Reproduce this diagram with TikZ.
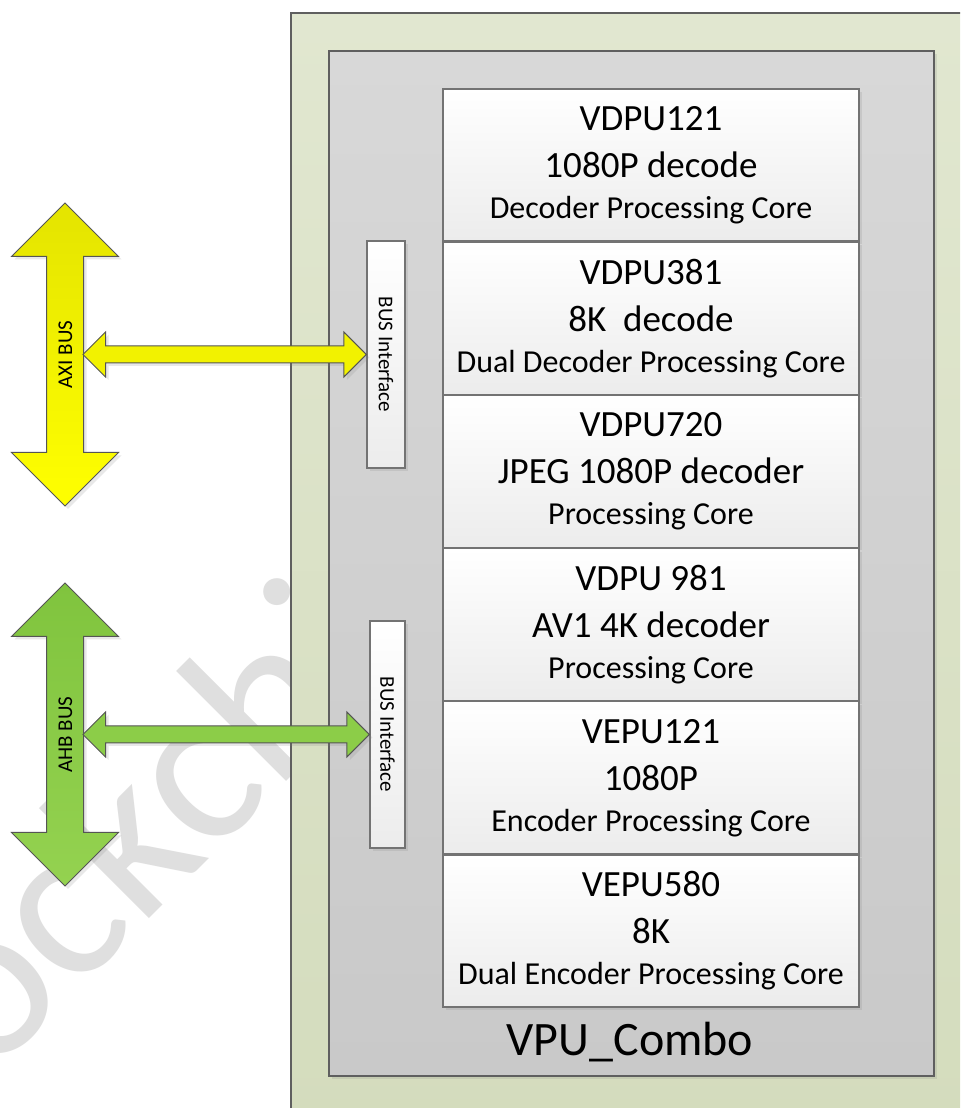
\documentclass[tikz,border=0pt]{standalone}
\usepackage{fontspec}
\setmainfont{Carlito}
\usetikzlibrary{positioning,shapes.arrows,shadows,calc}
\definecolor{Greentop}{RGB}{225,231,208}
\definecolor{Greenbot}{RGB}{212,220,189}
\definecolor{Graytop}{RGB}{216,216,216}
\definecolor{Graybot}{RGB}{201,201,201}
\definecolor{Corelow}{RGB}{236,236,236}
\definecolor{Boxline}{RGB}{95,95,95}
\definecolor{Coreline}{RGB}{115,115,115}
\definecolor{Arrowline}{RGB}{85,85,85}
\definecolor{Axidark}{RGB}{228,228,0}
\definecolor{Axilight}{RGB}{255,255,0}
\definecolor{Axifill}{RGB}{242,242,0}
\definecolor{Ahbdark}{RGB}{128,196,62}
\definecolor{Ahblight}{RGB}{148,210,80}
\definecolor{Ahbfill}{RGB}{140,205,72}
\definecolor{Mark}{RGB}{223,223,223}
\newcommand{\corebig}{\fontsize{18.5}{23.5}\selectfont}
\newcommand{\coresmall}{\fontsize{16}{20.5}\selectfont}

\begin{document}
\begin{tikzpicture}[x=0.5pt,y=0.5pt,
  softshadow/.style={drop shadow={shadow xshift=1.5pt,shadow yshift=-1.5pt,opacity=.18}},
  core/.style={draw=Coreline,line width=0.6pt,top color=white,bottom color=Corelow,
    minimum width=208pt,minimum height=76pt,inner sep=0pt,align=center,font=\corebig,
    execute at begin node=\rule{0pt}{16pt}},
  busif/.style={draw=Coreline,line width=0.6pt,top color=white,bottom color=Corelow,
    rotate=-90,minimum width=113.5pt,minimum height=19pt,inner sep=0pt,
    font=\fontsize{10.5}{12}\selectfont,softshadow},
  vbus/.style={double arrow,rotate=90,draw=Arrowline,line width=0.5pt,
    minimum height=151.5pt,minimum width=53pt,double arrow head extend=17.5pt,
    inner xsep=0pt,inner ysep=0pt,text height=12.6pt,text depth=5.4pt,
    font=\fontsize{10.5}{12}\selectfont,softshadow},
  hbus/.style={double arrow,draw=Arrowline,line width=0.5pt,minimum width=22pt,
    double arrow head extend=7pt,inner sep=0pt,text height=4pt,text depth=4pt,softshadow}]
\clip (0,0) rectangle (960,1108);
\fill[white] (0,0) rectangle (960,1108);
%watermark
\node[rotate=45,anchor=base,text=Mark,font=\fontsize{112}{112}\selectfont] (mark) at (192,232) {Rockchip};
% boxes
\draw[draw=Boxline,line width=0.6pt,top color=Greentop,bottom color=Greenbot] (291,-20) rectangle (990,1095);
\draw[draw=Boxline,line width=0.6pt,top color=Graytop,bottom color=Graybot,softshadow] (329,32) rectangle (934,1057);
\node[font=\fontsize{24}{28}\selectfont] (combo) at (630,66) {VPU\_Combo};

\node[core,softshadow] (v121) at (651,943) {VDPU121\\1080P decode\\[-3pt]\coresmall Decoder Processing Core};
\node[core,softshadow,below=0pt of v121] (v381) {VDPU381\\8K~~decode\\[-3pt]\coresmall Dual Decoder Processing Core};
\node[core,softshadow,below=0pt of v381] (v720) {VDPU720\\JPEG 1080P decoder\\[-3pt]\coresmall Processing Core};
\node[core,softshadow,below=0pt of v720] (v981) {VDPU 981\\AV1 4K decoder\\[-3pt]\coresmall Processing Core};
\node[core,softshadow,below=0pt of v981] (e121) {VEPU121\\1080P\\[-3pt]\coresmall Encoder Processing Core};
\node[core,softshadow,below=0pt of e121] (e580) {VEPU580\\8K\\[-3pt]\coresmall Dual Encoder Processing Core};

\node[busif] (busA) at (386,753.5) {BUS Interface};
\node[busif,minimum height=17.5pt] (busB) at (387.5,373.5) {BUS Interface};

% buses
\node[vbus,top color=Axidark,bottom color=Axilight] (axi) at (65,753.5) {AXI BUS};
\node[vbus,top color=Ahbdark,bottom color=Ahblight] (ahb) at (65,373.5) {AHB BUS};
\coordinate (axiR) at ($(axi.center)+(18,0)$);
\coordinate (ahbR) at ($(ahb.center)+(18,0)$);
\path let \p1=($(busA.south)-(axiR)$) in ($(axiR)!.5!(busA.south)$)
  node[hbus,fill=Axifill,minimum height=\x1] (axilink) {};
\path let \p1=($(busB.south)-(ahbR)$) in ($(ahbR)!.5!(busB.south)$)
  node[hbus,fill=Ahbfill,minimum height=\x1,minimum width=22.5pt] (ahblink) {};
\end{tikzpicture}
\end{document}
